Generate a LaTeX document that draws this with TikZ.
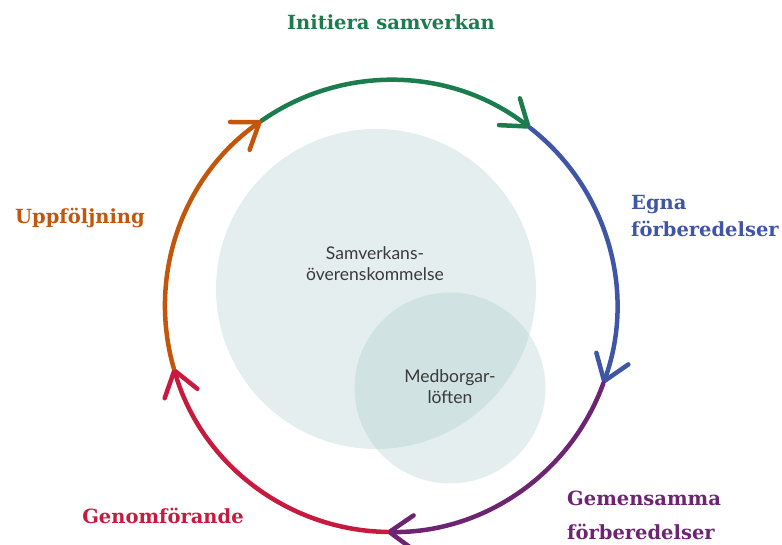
\documentclass[tikz,border=0pt]{standalone}
\usepackage{fontspec}
\setmainfont{DejaVu Serif}
\setsansfont{Lato}
\usetikzlibrary{arrows.meta}

\definecolor{cgreen}{HTML}{1B7D4E}
\definecolor{cblue}{HTML}{3F55A5}
\definecolor{cpurple}{HTML}{6C2473}
\definecolor{cred}{HTML}{C8193F}
\definecolor{corange}{HTML}{C2570B}
\definecolor{cfill}{RGB}{151,190,190}
\definecolor{ctext}{HTML}{3A3A3A}

\begin{document}
\begin{tikzpicture}[x=1pt,y=1pt,
  ring/.style={line width=4.5pt, line cap=round,
    -{Straight Barb[length=24pt,width=34pt,line width=4.5pt,round]}},
  phase/.style={font=\bfseries\fontsize{19.5}{27}\selectfont, inner sep=0pt},
  inner/.style={font=\sffamily\fontsize{17.5}{21}\selectfont, text=ctext, align=center}]

\def\cx{391}
\def\cy{239}
\def\R{226}

\useasboundingbox (0,0) rectangle (782,545);

% overlapping areas
\fill[cfill, opacity=.26] (376,256) circle (160);
\fill[cfill, opacity=.26] (450,157) circle (95.5);
\node[inner] (avtal) at (375,281.5) {Samverkans-\\överenskommelse};
\node[inner] (loften) at (450,158) {Medborgar-\\löften};

\begin{scope}[shift={(\cx,\cy)}]
  \coordinate (j1) at (125:\R);
  \coordinate (j2) at (52:\R);
  \coordinate (j3) at (-20:\R);
  \coordinate (j4) at (-91:\R);
  \coordinate (j5) at (196:\R);
\end{scope}

\draw[ring, cgreen] (j1) arc[start angle=125, end angle=52, radius=\R];
\draw[ring, cblue] (j2) arc[start angle=52, end angle=-20, radius=\R];
\draw[ring, cpurple] (j3) arc[start angle=-20, end angle=-91, radius=\R];
\draw[ring, cred] (j4) arc[start angle=-91, end angle=-164, radius=\R];
\draw[ring, corange] (j5) arc[start angle=196, end angle=125, radius=\R];

\node[phase, text=cgreen] (initiera) at (391,523) {Initiera samverkan};
\node[phase, text=cblue, anchor=west, align=left] (egna) at (631,328.5) {Egna\\förberedelser};
\node[phase, text=cpurple, anchor=west, align=left,
  font=\bfseries\fontsize{19.5}{34}\selectfont] (gemensamma) at (567,30) {Gemensamma\\förberedelser};
\node[phase, text=cred] (genomforande) at (163,29) {Genomförande};
\node[phase, text=corange] (uppfoljning) at (80,327) {Uppföljning};

\end{tikzpicture}
\end{document}
